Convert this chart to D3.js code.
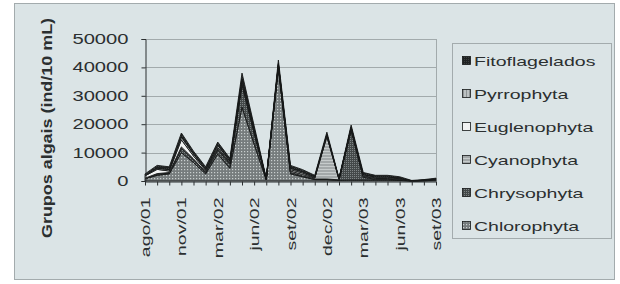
<!DOCTYPE html>
<html>
<head>
<meta charset="utf-8">
<script src="https://cdn.jsdelivr.net/npm/d3@7"></script>
<style>
  html, body { margin: 0; padding: 0; background: #ffffff; }
  text { font-family: "Liberation Sans", Arial, sans-serif; fill: #2b2f30; }
</style>
</head>
<body>
<svg id="chart" width="620" height="284"></svg>
<script>
// months sampled (jan/02 is missing in the series)
const months = ["ago/01", "set/01", "out/01", "nov/01", "dez/01", "fev/02", "mar/02", "abr/02", "mai/02",
  "jun/02", "jul/02", "ago/02", "set/02", "out/02", "nov/02", "dec/02", "jan/03", "fev/03", "mar/03",
  "abr/03", "mai/03", "jun/03", "jul/03", "ago/03", "set/03"];
const shownLabels = ["ago/01", "nov/01", "mar/02", "jun/02", "set/02", "dec/02", "mar/03", "jun/03", "set/03"];
const yTicks = [0, 10000, 20000, 30000, 40000, 50000];

// stack order bottom -> top
const chlorophyta = [800, 2000, 2500, 10000, 6500, 2500, 9500, 4500, 26000, 13000, 400, 39500, 2500, 1500, 500, 500, 200, 300, 300, 300, 300, 200, 0, 100, 200];
const chrysophyta = [0, 300, 300, 1500, 1000, 500, 1500, 1500, 8000, 4000, 100, 500, 500, 300, 200, 200, 200, 17500, 1000, 300, 300, 200, 0, 0, 100];
const cyanophyta = [200, 300, 200, 500, 300, 200, 300, 200, 500, 300, 100, 500, 500, 500, 300, 15000, 200, 500, 300, 300, 300, 300, 0, 100, 200];
const euglenophyta = [800, 1500, 500, 2500, 1000, 500, 500, 300, 500, 300, 100, 300, 500, 500, 200, 300, 100, 200, 200, 200, 200, 100, 0, 50, 100];
const pyrrophyta = [200, 400, 500, 1000, 700, 400, 800, 500, 1000, 700, 100, 500, 500, 400, 300, 400, 100, 400, 400, 300, 300, 200, 50, 50, 100];
const fitoflagelados = [500, 1000, 1000, 1400, 1000, 900, 1100, 1000, 2000, 1200, 200, 1300, 1000, 800, 500, 800, 200, 800, 800, 600, 600, 500, 150, 200, 300];

const seriesNames = ["Chlorophyta", "Chrysophyta", "Cyanophyta", "Euglenophyta", "Pyrrophyta", "Fitoflagelados"];
const seriesValues = [chlorophyta, chrysophyta, cyanophyta, euglenophyta, pyrrophyta, fitoflagelados];

const plot = { left: 145, right: 436, top: 39, bottom: 181 };

const svg = d3.select("#chart");
const defs = svg.append("defs");

function makePattern(id, size, bg, fg, draw) {
  const p = defs.append("pattern")
    .attr("id", id)
    .attr("patternUnits", "userSpaceOnUse")
    .attr("width", size)
    .attr("height", size);
  p.append("rect").attr("width", size).attr("height", size).attr("fill", bg);
  draw(p, fg);
}
makePattern("pat-chloro", 3, "#767c7d", "#c9cfcf", (p, fg) => {
  p.append("rect").attr("x", 1).attr("y", 1).attr("width", 1.2).attr("height", 1.2).attr("fill", fg);
});
makePattern("pat-chryso", 2, "#444949", "#7f8586", (p, fg) => {
  p.append("rect").attr("x", 0).attr("y", 0).attr("width", 1).attr("height", 1).attr("fill", fg);
});
makePattern("pat-cyano", 3, "#a3a8a9", "#c6cbcb", (p, fg) => {
  p.append("rect").attr("x", 0).attr("y", 1).attr("width", 3).attr("height", 1).attr("fill", fg);
});
makePattern("pat-eugle", 2, "#f1f3f3", "#f1f3f3", () => {});
makePattern("pat-pyrro", 3, "#bcc1c2", "#8e9495", (p, fg) => {
  p.append("rect").attr("x", 1).attr("y", 0).attr("width", 1).attr("height", 3).attr("fill", fg);
});
makePattern("pat-fito", 2, "#1f2222", "#3a3e3f", (p, fg) => {
  p.append("rect").attr("x", 0).attr("y", 0).attr("width", 1).attr("height", 1).attr("fill", fg);
});
const fills = {
  Chlorophyta: "url(#pat-chloro)",
  Chrysophyta: "url(#pat-chryso)",
  Cyanophyta: "url(#pat-cyano)",
  Euglenophyta: "url(#pat-eugle)",
  Pyrrophyta: "url(#pat-pyrro)",
  Fitoflagelados: "url(#pat-fito)"
};

// chart background + border
svg.append("rect")
  .attr("x", 14.5).attr("y", 3.5)
  .attr("width", 600).attr("height", 276)
  .attr("fill", "#dbe4e6")
  .attr("stroke", "#a3abad");

const x = d3.scalePoint().domain(months).range([plot.left, plot.right]);
const y = d3.scaleLinear().domain([0, 50000]).range([plot.bottom, plot.top]);

// stretch text along its writing direction (wide font in the original)
function stretch(sel, k) {
  sel.each(function () {
    const w = this.getComputedTextLength();
    d3.select(this).attr("textLength", w * k).attr("lengthAdjust", "spacingAndGlyphs");
  });
}

// gridlines
svg.append("g")
  .selectAll("line")
  .data(yTicks.filter(d => d > 0))
  .join("line")
  .attr("x1", plot.left).attr("x2", plot.right)
  .attr("y1", d => Math.round(y(d)) + 0.5).attr("y2", d => Math.round(y(d)) + 0.5)
  .attr("stroke", "#a2aaac");
svg.append("line")
  .attr("x1", plot.right + 0.5).attr("x2", plot.right + 0.5)
  .attr("y1", plot.top).attr("y2", plot.bottom)
  .attr("stroke", "#a2aaac");

// stacked areas
const table = months.map((m, i) => {
  const row = { month: m };
  seriesNames.forEach((s, j) => { row[s] = seriesValues[j][i]; });
  return row;
});
const stacked = d3.stack().keys(seriesNames)(table);
const area = d3.area()
  .x(d => x(d.data.month))
  .y0(d => y(d[0]))
  .y1(d => y(d[1]));

svg.append("g")
  .selectAll("path")
  .data(stacked)
  .join("path")
  .attr("d", area)
  .attr("fill", d => fills[d.key])
  .attr("stroke", "#151717")
  .attr("stroke-width", 0.9)
  .attr("stroke-linejoin", "round");

// y axis
const yAxis = svg.append("g")
  .attr("transform", `translate(${plot.left + 0.5},0)`)
  .call(d3.axisLeft(y).tickValues(yTicks).tickSize(4).tickPadding(13).tickFormat(d3.format("d")));
yAxis.select(".domain").attr("stroke", "#2b2f30");
yAxis.selectAll(".tick line").attr("stroke", "#2b2f30");
yAxis.selectAll("text")
  .style("font-size", "14px")
  .style("font-family", "'Liberation Sans', Arial, sans-serif")
  .attr("fill", "#2b2f30")
  .call(stretch, 1.44);

// x axis
const xAxis = svg.append("g")
  .attr("transform", `translate(0,${plot.bottom + 0.5})`)
  .call(d3.axisBottom(x).tickSize(4).tickSizeOuter(0).tickFormat(d => shownLabels.includes(d) ? d : ""));
xAxis.select(".domain").attr("stroke", "#2b2f30");
xAxis.selectAll(".tick line").attr("stroke", "#2b2f30");
xAxis.selectAll("text")
  .style("font-size", "13px")
  .style("font-family", "'Liberation Sans', Arial, sans-serif")
  .attr("fill", "#2b2f30")
  .attr("text-anchor", "end")
  .attr("transform", "rotate(-90)")
  .attr("x", -16)
  .attr("y", 0)
  .attr("dy", "0.35em")
  .call(stretch, 1.5);

// y title
svg.append("text")
  .attr("transform", "translate(52,128) rotate(-90)")
  .attr("text-anchor", "middle")
  .style("font-size", "14px")
  .style("font-weight", "bold")
  .text("Grupos algais (ind/10 mL)")
  .call(stretch, 1.28);

// legend
const legend = svg.append("g");
legend.append("rect")
  .attr("x", 452.5).attr("y", 43.5)
  .attr("width", 159).attr("height", 195)
  .attr("fill", "#dbe4e6")
  .attr("stroke", "#a3abad");

const legendItems = seriesNames.slice().reverse();
const rows = legend.selectAll("g.item")
  .data(legendItems)
  .join("g")
  .attr("class", "item")
  .attr("transform", (d, i) => `translate(462,${61 + i * 33})`);
rows.append("rect")
  .attr("x", 0.5).attr("y", -4.5)
  .attr("width", 8).attr("height", 8)
  .attr("fill", d => fills[d])
  .attr("stroke", "#151717")
  .attr("stroke-width", 0.8);
rows.append("text")
  .attr("x", 12)
  .attr("dy", "0.36em")
  .style("font-size", "13px")
  .text(d => d)
  .call(stretch, 1.5);
</script>
</body>
</html>
